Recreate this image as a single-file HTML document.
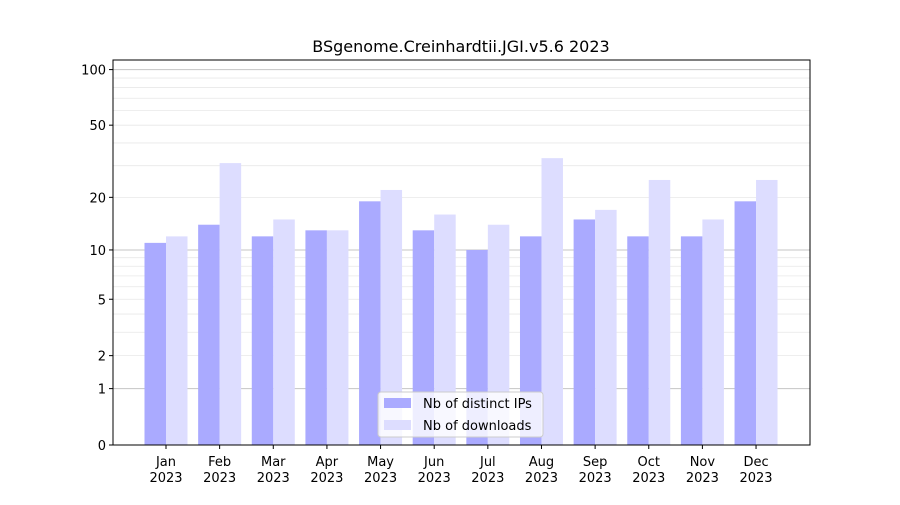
<!DOCTYPE html>
<html><head><meta charset="utf-8"><style>
body{margin:0;background:#fff;font-family:"Liberation Sans","DejaVu Sans",sans-serif;}
svg text{font-family:"DejaVu Sans","Liberation Sans",sans-serif;}
</style></head><body>
<svg id="chart" width="900" height="500" xmlns="http://www.w3.org/2000/svg">
<rect width="900" height="500" fill="#fff"/>
<text x="461" y="52" text-anchor="middle" font-size="16">BSgenome.Creinhardtii.JGI.v5.6 2023</text>
<g id="grid"></g><g id="bars"></g><g id="axes"></g>
</svg>
<script>
const months=["Jan","Feb","Mar","Apr","May","Jun","Jul","Aug","Sep","Oct","Nov","Dec"];
const ips=[11,14,12,13,19,13,10,12,15,12,12,19];
const downloads=[12,31,15,13,22,16,14,33,17,25,15,25];
const yTicks=[0,1,2,5,10,20,50,100];
const NS="http://www.w3.org/2000/svg";
const L=113,R=810,T=60,B=445;
function y(v){return B-187.3*Math.log10(1+v);}
function xc(i){return 166+i*53.64;}
function mk(tag,attrs,parent){const e=document.createElementNS(NS,tag);for(const k in attrs)e.setAttribute(k,attrs[k]);parent.appendChild(e);return e;}
const grid=document.getElementById('grid'),bars=document.getElementById('bars'),axes=document.getElementById('axes');
const minors=[2,3,4,5,6,7,8,9,20,30,40,50,60,70,80,90];
minors.forEach(v=>{const l=mk('line',{x1:L,x2:R,y1:y(v),y2:y(v),stroke:'#e8e8e8','stroke-width':0.8},grid);

});
[1,10,100].forEach(v=>{const l=mk('line',{x1:L,x2:R,y1:y(v),y2:y(v),stroke:'#c4c4c4','stroke-width':1},grid);

});
months.forEach((m,i)=>{
 const a=mk('rect',{x:xc(i)-21.5,y:y(ips[i]),width:21.5,height:B-y(ips[i]),fill:'#aaaaff'},bars);
 
 
 const b=mk('rect',{x:xc(i),y:y(downloads[i]),width:21.5,height:B-y(downloads[i]),fill:'#ddddff'},bars);
 
 
 mk('line',{x1:xc(i),x2:xc(i),y1:B,y2:B+4,stroke:'#000'},axes);
 const t=mk('text',{x:xc(i),y:B+21,'text-anchor':'middle','font-size':13},axes);
 
 
 t.innerHTML='<tspan x="'+xc(i)+'">'+m+'</tspan><tspan x="'+xc(i)+'" dy="16">2023</tspan>';
});
yTicks.forEach(v=>{
 mk('line',{x1:L-4,x2:L,y1:y(v),y2:y(v),stroke:'#000'},axes);
 const t=mk('text',{x:L-7,y:y(v)+5,'text-anchor':'end','font-size':13},axes);
 
 
 t.textContent=v;
});
const frame=mk('rect',{x:L,y:T,width:R-L,height:B-T,fill:'none',stroke:'#000','stroke-width':1},axes);


const lg=mk('g',{},axes);


mk('rect',{x:378,y:392,width:165,height:45,fill:'#fff','fill-opacity':0.8,stroke:'#ccc',rx:3},lg);
mk('rect',{x:384,y:398,width:27,height:10,fill:'#aaaaff'},lg);
mk('rect',{x:384,y:420,width:27,height:10,fill:'#ddddff'},lg);
const l1=mk('text',{x:423,y:408,'font-size':13},lg);l1.textContent='Nb of distinct IPs';


const l2=mk('text',{x:423,y:430,'font-size':13},lg);l2.textContent='Nb of downloads';


</script>
</body></html>
